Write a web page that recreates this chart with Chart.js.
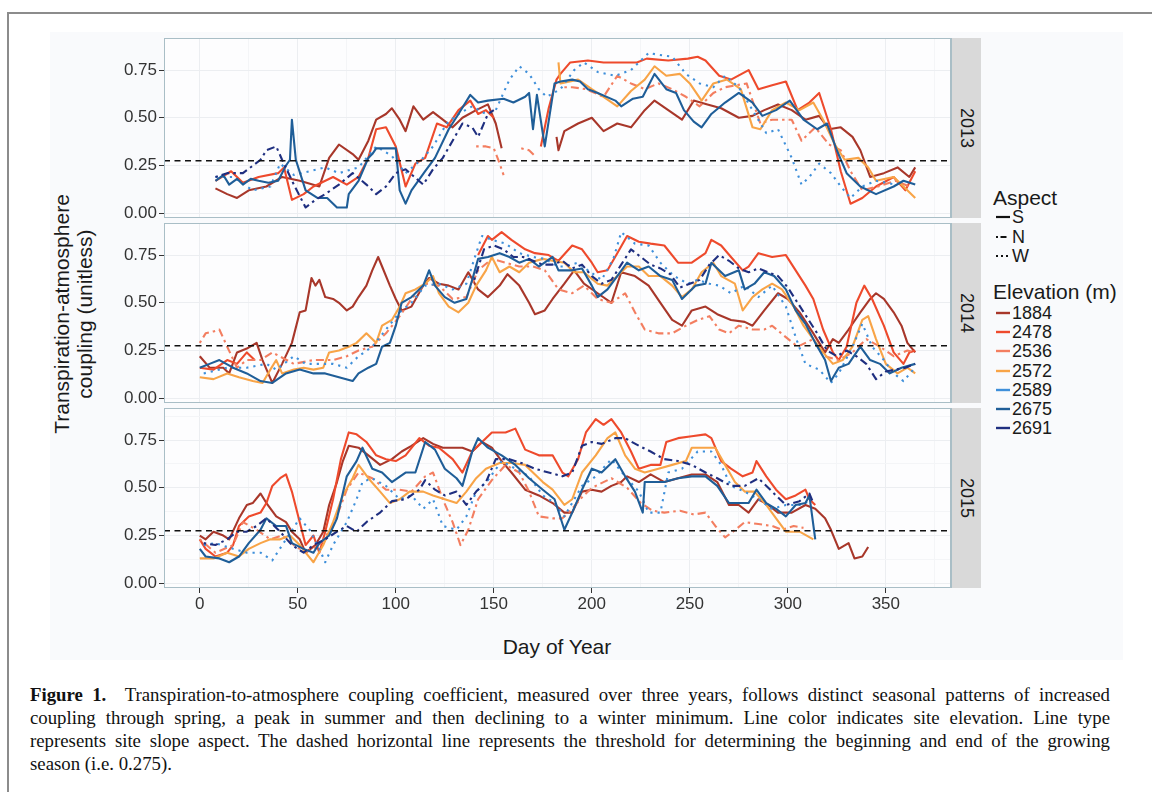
<!DOCTYPE html>
<html>
<head>
<meta charset="utf-8">
<script src="https://cdn.jsdelivr.net/npm/chart.js@4.4.1/dist/chart.umd.min.js"></script>
<style>
body{margin:0;width:1152px;height:792px;background:#fff;position:relative;overflow:hidden;font-family:"Liberation Sans",Arial,sans-serif;color:#1a1a1a;}
.abs{position:absolute;}
#frame{left:7px;top:12px;width:1160px;height:800px;border-top:2px solid #8c8c8c;border-left:2px solid #8c8c8c;}
#figbg{left:50px;top:32px;width:1073px;height:628px;background:#f9fafc;}
canvas{position:absolute;}
.strip{left:951px;width:30px;height:180px;background:#d9d9d9;border-left:1px solid #a9bec6;box-sizing:border-box;
  writing-mode:vertical-rl;display:flex;align-items:center;justify-content:center;font-size:18px;color:#1a1a1a;}
#ytitle{left:-77px;top:291px;width:300px;height:46px;line-height:23px;font-size:21px;text-align:center;transform:rotate(-90deg);}
#xtitle{left:457px;top:635px;width:200px;text-align:center;font-size:21px;line-height:24px;}
.ltitle{left:993px;font-size:21px;line-height:24px;}
.litem{left:995px;height:20px;display:flex;align-items:center;font-size:18px;line-height:20px;}
.litem svg{margin-right:1px;}
.cap{left:30px;width:1080px;font-family:"Liberation Serif","Times New Roman",serif;font-size:18.8px;line-height:23px;white-space:nowrap;color:#111;}
.just{text-align:justify;text-align-last:justify;}
</style>
</head>
<body>
<div id="frame" class="abs"></div>
<div id="figbg" class="abs"></div>
<canvas id="c2013"></canvas>
<canvas id="c2014"></canvas>
<canvas id="c2015"></canvas>
<div class="abs strip" style="top:38px">2013</div>
<div class="abs strip" style="top:223px">2014</div>
<div class="abs strip" style="top:408px">2015</div>
<div id="ytitle" class="abs">Transpiration-atmosphere<br>coupling (unitless)</div>
<div id="xtitle" class="abs">Day of Year</div>
<div id="legend"></div>
<div class="abs cap just" style="top:683px"><b>Figure 1.</b>&nbsp; Transpiration-to-atmosphere coupling coefficient, measured over three years, follows distinct seasonal patterns of increased</div>
<div class="abs cap just" style="top:706px">coupling through spring, a peak in summer and then declining to a winter minimum. Line color indicates site elevation. Line type</div>
<div class="abs cap just" style="top:729px">represents site slope aspect. The dashed horizontal line represents the threshold for determining the beginning and end of the growing</div>
<div class="abs cap" style="top:752px">season (i.e. 0.275).</div>
<script>
"use strict";

// [day of year, coupling], null = gap in record
const d13_1884 = [[8,.13],[14,.10],[19,.08],[25,.12],[34,.14],[42,.19],[51,.17],[61,.14],[66,.29],[71,.36],[78,.31],[81,.28],[86,.38],[90,.49],[95,.52],[98,.55],[102,.49],[105,.43],[109,.56],[114,.49],[119,.53],[124,.49],[129,.45],[134,.50],[141,.54],[147,.57],[151,.47],[154,.34],[168,null],[182,.40],[183,.33],[186,.43],[193,.47],[200,.50],[206,.43],[213,.47],[220,.45],[227,.54],[232,.59],[239,.54],[246,.49],[252,.59],[259,.57],[266,.55],[275,.50],[282,.51],[288,.54],[295,.57],[302,.54],[309,.49],[316,.51],[321,.44],[327,.45],[333,.40],[337,.33],[342,.19],[349,.21],[356,.24],[362,.19],[365,.24]];
const d13_2478 = [[8,.17],[16,.22],[22,.16],[30,.19],[40,.21],[43,.24],[47,.07],[53,.10],[58,.14],[68,.19],[75,.15],[81,.19],[86,.29],[90,.44],[95,.45],[100,.35],[105,.14],[110,.26],[115,.29],[121,.47],[126,.45],[132,.54],[138,.59],[142,.52],[146,.54],[150,.50],[162,null],[174,.35],[178,.55],[182,.70],[184,.73],[189,.79],[198,.80],[206,.79],[216,.79],[223,.79],[228,.81],[239,.80],[249,.81],[254,.82],[258,.80],[265,.72],[271,.70],[280,.75],[285,.65],[292,.67],[299,.69],[305,.54],[311,.58],[316,.63],[322,.44],[327,.22],[332,.05],[338,.08],[345,.14],[354,.19],[360,.12],[365,.22]];
const d13_2536 = [[141,.35],[146,.35],[150,.34],[153,.26],[155,.20],[160,null],[164,.34],[168,.33],[171,.30],[178,null],[186,.66],[190,.66],[197,.65],[206,.61],[213,.72],[220,.68],[227,.65],[234,.68],[241,.65],[248,.61],[255,.56],[262,.63],[268,.66],[279,.68],[286,.47],[292,.49],[302,.49],[307,.38],[314,.45],[321,.36],[327,.33],[332,.22],[338,.12],[346,.14],[355,.17],[362,.14]];
const d13_2572 = [[183,.79],[184,.68],[193,.70],[200,.65],[206,.61],[213,.56],[220,.64],[227,.70],[232,.77],[238,.72],[245,.73],[250,.68],[256,.59],[262,.68],[269,.70],[276,.65],[282,.45],[286,.44],[292,.54],[299,.58],[306,.54],[313,.58],[318,.49],[324,.36],[329,.28],[336,.29],[341,.24],[345,.17],[354,.19],[359,.14],[365,.08]];
const d13_2589 = [[8,.19],[17,.19],[27,.12],[36,.14],[41,.26],[48,.20],[56,.22],[64,.24],[71,.21],[81,.24],[90,.35],[98,.30],[105,.21],[114,.29],[119,.35],[126,.47],[132,.52],[139,.56],[146,.52],[151,.54],[158,.70],[163,.77],[168,.73],[173,.65],[177,.61],[184,.65],[191,.75],[196,.79],[203,.74],[212,.72],[220,.75],[229,.84],[234,.83],[241,.82],[248,.73],[255,.68],[262,.66],[268,.72],[275,.66],[282,.54],[289,.42],[295,.44],[302,.29],[307,.15],[311,.19],[316,.26],[322,.21],[327,.14],[332,.08],[338,.14],[345,.17],[355,.15]];
const d13_2675 = [[8,.17],[12,.20],[15,.15],[19,.18],[22,.15],[26,.18],[30,.17],[35,.16],[40,.17],[44,.25],[46,.28],[47,.49],[49,.28],[54,.12],[60,.08],[65,.08],[70,.03],[75,.03],[76,.10],[81,.17],[86,.29],[88,.31],[90,.34],[95,.34],[100,.34],[102,.12],[105,.05],[108,.12],[115,.22],[120,.29],[127,.44],[132,.52],[138,.62],[142,.58],[147,.59],[155,.60],[160,.58],[166,.61],[168,.63],[170,.44],[172,.62],[176,.35],[181,.68],[184,.69],[190,.70],[194,.69],[198,.65],[203,.63],[212,.59],[215,.56],[221,.60],[226,.61],[232,.73],[238,.65],[243,.63],[247,.54],[252,.48],[256,.45],[261,.52],[268,.58],[275,.63],[282,.58],[287,.51],[294,.54],[301,.59],[308,.49],[315,.44],[320,.47],[325,.33],[330,.21],[337,.14],[345,.10],[354,.14],[359,.17],[365,.15]];
const d13_2691 = [[8,.19],[14,.21],[22,.21],[31,.28],[34,.33],[39,.35],[42,.28],[48,.15],[54,.03],[59,.07],[64,.10],[71,.15],[78,.21],[85,.15],[90,.10],[95,.14],[100,.21],[105,.23],[114,.15],[119,.23],[124,.29],[129,.38],[134,.47],[139,.45],[142,.40],[147,.52],[150,.54]];

const d14_1884 = [[0,.22],[5,.16],[12,.16],[15,.13],[19,.24],[24,.26],[29,.29],[32,.20],[37,.08],[42,.18],[47,.29],[51,.45],[54,.46],[57,.63],[59,.59],[61,.62],[64,.53],[68,.52],[71,.50],[75,.46],[78,.48],[81,.53],[85,.59],[88,.67],[91,.74],[93,.69],[97,.59],[100,.52],[103,.46],[108,.48],[114,.59],[117,.63],[122,.60],[127,.59],[132,.57],[137,.66],[142,.57],[147,.53],[153,.59],[157,.65],[163,.59],[168,.50],[171,.44],[176,.46],[180,.52],[186,.60],[191,.67],[196,.60],[203,.55],[210,.50],[215,.66],[222,.64],[229,.59],[235,.50],[241,.41],[246,.38],[251,.46],[258,.48],[264,.44],[271,.41],[278,.40],[282,.38],[288,.46],[295,.55],[300,.52],[306,.45],[313,.34],[319,.24],[323,.31],[326,.29],[331,.36],[337,.45],[342,.52],[345,.55],[349,.52],[354,.45],[358,.38],[361,.29],[365,.24]];
const d14_2478 = [[0,.16],[7,.15],[14,.20],[19,.18],[24,.24],[28,.20],[30,null],[142,.75],[147,.85],[149,.83],[154,.87],[159,.83],[166,.78],[171,.76],[178,.75],[183,.72],[190,.80],[195,.78],[200,.71],[203,.66],[208,.67],[213,.76],[218,.85],[224,.82],[230,.81],[237,.80],[244,.71],[251,.71],[258,.76],[261,.83],[266,.80],[271,.74],[277,.67],[280,.69],[285,.76],[292,.74],[299,.75],[304,.67],[309,.59],[313,.52],[318,.36],[323,.24],[326,.20],[330,.27],[335,.50],[339,.59],[343,.52],[349,.38],[354,.24],[359,.18],[362,.24],[365,.25]];
const d14_2536 = [[0,.29],[3,.34],[7,.35],[10,.36],[14,.27],[19,.16],[24,.20],[31,.20],[37,.24],[48,.18],[58,.20],[68,.20],[75,.22],[81,.25],[88,.27],[95,.34],[102,.43],[108,.52],[115,.60],[122,.59],[129,.52],[136,.53],[142,.67],[149,.73],[156,.71],[163,.69],[170,.69],[176,.67],[183,.57],[190,.55],[196,.59],[203,.52],[210,.50],[217,.55],[222,.45],[227,.36],[234,.34],[241,.34],[248,.38],[254,.41],[260,.43],[265,.36],[270,.34],[275,.38],[282,.36],[288,.36],[292,.38],[299,.32],[305,.27],[313,.31],[319,.22],[326,.20],[333,.24],[340,.31],[347,.27],[354,.22],[361,.25],[365,.24]];
const d14_2572 = [[0,.11],[7,.10],[14,.13],[20,.11],[27,.09],[32,.08],[36,.15],[39,.20],[42,.13],[48,.15],[53,.16],[58,.15],[63,.16],[66,.24],[71,.25],[76,.27],[80,.29],[85,.34],[90,.29],[93,.38],[98,.41],[102,.48],[105,.55],[110,.57],[115,.60],[119,.64],[122,.55],[127,.48],[132,.45],[137,.50],[141,.59],[146,.67],[149,.74],[153,.66],[158,.69],[163,.66],[168,.71],[175,.73],[180,.72],[186,.71],[191,.66],[196,.66],[203,.60],[208,.59],[213,.64],[218,.69],[224,.69],[229,.64],[235,.64],[241,.59],[246,.53],[251,.57],[256,.66],[262,.71],[266,.64],[273,.60],[277,.46],[282,.53],[287,.57],[292,.60],[297,.57],[303,.48],[308,.38],[313,.31],[318,.24],[323,.18],[328,.20],[333,.27],[338,.41],[341,.43],[345,.31],[350,.18],[356,.13],[361,.16],[365,.13]];
const d14_2589 = [[2,.13],[14,.16],[24,.16],[34,.18],[39,.15],[48,.22],[54,.18],[61,.18],[68,.18],[75,.16],[81,.22],[88,.27],[95,.36],[102,.45],[108,.50],[115,.59],[122,.60],[129,.57],[136,.60],[141,.76],[144,.85],[149,.83],[156,.81],[163,.76],[170,.74],[176,.73],[183,.69],[186,.69],[193,.71],[198,.67],[205,.62],[211,.73],[215,.87],[222,.81],[229,.80],[235,.71],[242,.64],[249,.60],[254,.62],[260,.60],[265,.59],[271,.55],[278,.59],[285,.53],[292,.59],[299,.48],[304,.32],[309,.18],[316,.15],[322,.08],[326,.13],[333,.27],[338,.39],[343,.27],[349,.20],[354,.13],[359,.09],[364,.15]];
const d14_2675 = [[0,.16],[5,.18],[10,.20],[17,.16],[24,.13],[31,.09],[37,.08],[44,.13],[51,.15],[58,.13],[64,.13],[71,.11],[78,.09],[81,.13],[86,.16],[90,.18],[93,.27],[97,.29],[100,.38],[103,.50],[108,.53],[114,.59],[117,.67],[120,.59],[125,.53],[130,.50],[136,.52],[139,.62],[142,.73],[147,.74],[153,.76],[158,.74],[163,.71],[168,.73],[173,.69],[180,.74],[183,.67],[190,.67],[195,.68],[200,.59],[203,.53],[208,.57],[213,.64],[218,.71],[224,.67],[229,.69],[235,.64],[241,.62],[246,.52],[253,.59],[258,.60],[261,.71],[268,.64],[275,.67],[278,.57],[283,.60],[288,.66],[293,.64],[299,.57],[304,.46],[309,.39],[314,.29],[319,.20],[322,.09],[326,.16],[331,.18],[337,.27],[342,.20],[347,.18],[352,.13],[358,.16],[365,.18]];
const d14_2691 = [[140,.62],[145,.78],[150,.80],[155,.78],[160,.74],[165,.74],[170,.72],[175,.70],[180,.70],[185,.72],[190,.68],[195,.70],[200,.64],[205,.60],[210,.62],[215,.70],[220,.78],[225,.74],[230,.70],[235,.68],[240,.65],[245,.58],[250,.60],[255,.62],[260,.70],[265,.75],[270,.72],[275,.68],[280,.66],[285,.68],[290,.66],[295,.64],[300,.58],[305,.50],[310,.42],[315,.34],[320,.25],[325,.22],[330,.25],[335,.22],[340,.18],[345,.10],[350,.14],[355,.15],[360,.16],[365,.18]];

const d15_1884 = [[0,.25],[3,.23],[7,.27],[12,.25],[15,.23],[20,.34],[24,.41],[27,.42],[31,.47],[34,.42],[39,.35],[44,.32],[47,.27],[51,.23],[54,.16],[59,.20],[63,.27],[66,.41],[70,.53],[73,.64],[76,.72],[81,.71],[86,.67],[92,.62],[98,.65],[103,.69],[108,.72],[114,.76],[119,.73],[124,.71],[129,.71],[134,.71],[139,.69],[144,.74],[149,.71],[154,.64],[159,.58],[166,.49],[173,.46],[180,.42],[186,.37],[190,.37],[195,.48],[200,.49],[205,.48],[210,.51],[215,.53],[218,.56],[224,.53],[230,.57],[237,.53],[244,.55],[251,.57],[258,.57],[264,.53],[270,.41],[275,.41],[280,.37],[285,.44],[290,.41],[295,.37],[302,.37],[309,.41],[314,.39],[319,.34],[322,.28],[326,.18],[331,.21],[334,.13],[338,.14],[341,.19]];
const d15_2478 = [[0,.23],[3,.18],[8,.14],[14,.16],[17,.20],[20,.30],[25,.35],[31,.37],[34,.42],[37,.51],[41,.55],[44,.57],[47,.48],[51,.32],[54,.20],[58,.25],[61,.16],[64,.27],[68,.44],[72,.65],[76,.79],[80,.78],[85,.74],[90,.67],[95,.65],[100,.64],[105,.67],[112,.76],[117,.72],[122,.71],[129,.65],[134,.58],[139,.69],[144,.74],[149,.79],[156,.79],[161,.81],[166,.70],[173,.67],[180,.67],[185,.58],[188,.56],[193,.65],[197,.79],[202,.86],[206,.83],[210,.86],[215,.79],[220,.69],[224,.60],[230,.62],[235,.62],[238,.74],[244,.76],[251,.77],[258,.78],[261,.76],[266,.64],[271,.60],[277,.56],[282,.58],[284,.64],[289,.56],[294,.49],[299,.44],[304,.46],[309,.49],[311,.44],[314,.41]];
const d15_2536 = [[0,.23],[8,.16],[17,.20],[22,.32],[29,.28],[36,.23],[42,.25],[48,.20],[54,.16],[61,.20],[68,.30],[75,.49],[81,.58],[88,.55],[95,.49],[102,.49],[108,.48],[115,.56],[119,.58],[124,.44],[129,.32],[133,.20],[137,.28],[142,.44],[149,.54],[156,.62],[163,.58],[168,.48],[173,.35],[180,.34],[185,.34],[190,.39],[195,.45],[200,.50],[210,.55],[218,.50],[225,.42],[231,.38],[237,.37],[245,.38],[252,.36],[258,.37],[263,.30],[268,.24],[272,.27],[278,.32],[285,.31],[292,.30],[297,.28],[303,.30],[308,.29]];
const d15_2572 = [[0,.13],[7,.13],[14,.16],[20,.14],[25,.18],[31,.21],[36,.23],[41,.23],[46,.25],[51,.20],[54,.16],[58,.11],[63,.20],[68,.32],[73,.46],[78,.55],[81,.62],[86,.55],[92,.48],[97,.42],[102,.44],[107,.48],[114,.48],[119,.46],[125,.44],[131,.42],[136,.48],[141,.55],[146,.60],[153,.63],[159,.63],[166,.62],[175,.53],[180,.49],[186,.41],[190,.44],[195,.58],[202,.67],[208,.76],[212,.79],[217,.67],[222,.60],[227,.58],[234,.60],[241,.62],[248,.64],[251,.71],[258,.71],[263,.71],[268,.62],[273,.53],[278,.48],[283,.48],[289,.41],[294,.34],[299,.27],[306,.27],[313,.23]];
const d15_2589 = [[2,.20],[8,.21],[17,.18],[24,.16],[31,.16],[37,.12],[44,.23],[51,.34],[56,.28],[61,.18],[64,.11],[68,.20],[75,.32],[80,.44],[83,.53],[88,.55],[95,.51],[102,.44],[108,.46],[114,.39],[119,.44],[124,.30],[131,.28],[136,.35],[141,.48],[147,.54],[154,.64],[161,.60],[168,.56],[175,.46],[181,.42],[186,.35],[195,.51],[202,.56],[210,.65],[217,.56],[224,.48],[229,.37],[235,.37],[239,.58],[246,.60],[254,.69],[261,.69],[266,.62],[271,.51],[278,.48],[285,.44],[292,.39],[299,.41],[306,.41],[311,.43]];
const d15_2675 = [[0,.18],[3,.14],[10,.13],[15,.11],[20,.14],[25,.21],[31,.28],[34,.34],[39,.30],[44,.30],[47,.21],[53,.18],[58,.16],[61,.21],[66,.25],[70,.34],[75,.56],[80,.64],[83,.71],[88,.60],[93,.58],[98,.53],[105,.58],[110,.58],[115,.74],[120,.70],[125,.60],[131,.55],[134,.51],[139,.69],[142,.76],[147,.71],[154,.67],[161,.62],[168,.55],[175,.49],[181,.44],[186,.28],[190,.37],[195,.49],[200,.60],[205,.58],[212,.65],[217,.56],[222,.48],[226,.37],[227,.53],[237,.53],[244,.55],[251,.56],[258,.56],[264,.51],[270,.42],[280,.42],[284,.49],[289,.42],[294,.39],[299,.35],[304,.41],[309,.42],[311,.46],[314,.23]];
const d15_2691 = [[2,.21],[8,.20],[14,.23],[19,.27],[24,.27],[29,.30],[34,.34],[41,.27],[47,.20],[53,.16],[58,.20],[64,.23],[70,.27],[75,.30],[80,.27],[85,.32],[92,.37],[98,.43],[105,.44],[112,.49],[115,.54],[120,.49],[125,.46],[131,.48],[136,.41],[141,.48],[146,.53],[151,.65],[158,.65],[164,.63],[171,.60],[178,.58],[185,.56],[190,.58],[195,.72],[200,.74],[205,.73],[212,.76],[217,.76],[224,.72],[230,.69],[237,.65],[244,.64],[251,.62],[258,.58],[264,.55],[271,.51],[278,.51],[285,.55],[292,.48],[299,.41],[306,.43],[311,.47],[313,.42]];

const sites = ["1884","2478","2536","2572","2589","2675","2691"];
const siteAspect = ["S","S","N","S","W","S","N"];
const aspects = ["S","N","W"];
const years = ["2013","2014","2015"];
const yearData = {
    "2013": [d13_1884, d13_2478, d13_2536, d13_2572, d13_2589, d13_2675, d13_2691],
    "2014": [d14_1884, d14_2478, d14_2536, d14_2572, d14_2589, d14_2675, d14_2691],
    "2015": [d15_1884, d15_2478, d15_2536, d15_2572, d15_2589, d15_2675, d15_2691]
};
const threshold = 0.275;
const xTicks = [0,50,100,150,200,250,300,350];
const yTicks = [0,0.25,0.5,0.75];
const xMinor = [25,75,125,175,225,275,325,375];
const yMinor = [0.125,0.375,0.625,0.875];

// styling
const siteColors = ["#a8372a","#ee4a2c","#f37e60","#f8a447","#3e8fda","#1f5e98","#1f2f80"];
const aspectDash = {S: [], N: [2.5,4,8,4], W: [2.2,5]};
const legendDash = {S: "", N: "2 2.5 6 10", W: "2 3"};
const panelTops = [38, 223, 408];
const panelH = 180, axisW = 64, canvasLeft = 100, canvasW = 851;
const xRange = [-18.25, 383.25], yRange = [-0.025, 0.918];
const fontFam = '"Liberation Sans", Arial, sans-serif';

const isMajor = (v, list) => list.some(t => Math.abs(t - v) < 1e-9);

const panelFrame = {
    id: "panelFrame",
    beforeDraw(chart){
        const {ctx, chartArea: a} = chart;
        ctx.save();
        ctx.fillStyle = "#fdfdfe";
        ctx.fillRect(a.left, a.top, a.width, a.height);
        ctx.restore();
    },
    afterDraw(chart){
        const {ctx, chartArea: a} = chart;
        ctx.save();
        ctx.strokeStyle = "#a9bec6";
        ctx.lineWidth = 1;
        ctx.strokeRect(a.left + 0.5, a.top + 0.5, a.width - 1, a.height - 1);
        ctx.restore();
    }
};

years.forEach((yr, p) => {
    const bottom = p === years.length - 1;
    const canvas = document.getElementById("c" + yr);
    canvas.width = canvasW;
    canvas.height = panelH + (bottom ? 30 : 0);
    canvas.style.left = canvasLeft + "px";
    canvas.style.top = panelTops[p] + "px";

    const datasets = yearData[yr].map((series, i) => ({
        label: sites[i],
        data: series.map(d => ({x: d[0], y: d[1]})),
        borderColor: siteColors[i],
        borderWidth: 2.1,
        borderDash: aspectDash[siteAspect[i]],
        order: 10 - i
    }));
    datasets.push({
        label: "threshold",
        data: [{x: xRange[0], y: threshold}, {x: xRange[1], y: threshold}],
        borderColor: "#111",
        borderWidth: 1.5,
        borderDash: [6, 4.5],
        order: 0
    });

    new Chart(canvas.getContext("2d"), {
        type: "line",
        data: {datasets},
        plugins: [panelFrame],
        options: {
            responsive: false,
            animation: false,
            devicePixelRatio: 1,
            layout: {padding: 0},
            spanGaps: false,
            elements: {point: {radius: 0}, line: {tension: 0, borderJoinStyle: "round"}},
            plugins: {legend: {display: false}, tooltip: {enabled: false}},
            scales: {
                x: {
                    type: "linear", min: xRange[0], max: xRange[1],
                    afterBuildTicks: ax => { ax.ticks = xTicks.concat(xMinor).sort((a, b) => a - b).map(v => ({value: v})); },
                    afterFit: ax => { ax.height = bottom ? 30 : 0; ax.paddingLeft = 0; ax.paddingRight = 0; },
                    border: {display: false},
                    grid: {
                        color: c => isMajor(c.tick.value, xTicks) ? "#eceef1" : "#f4f5f7",
                        tickColor: c => isMajor(c.tick.value, xTicks) ? "#333" : "rgba(0,0,0,0)",
                        tickLength: 5, drawTicks: bottom
                    },
                    ticks: {
                        display: bottom, autoSkip: false, maxRotation: 0, padding: 1,
                        color: "#333", font: {family: fontFam, size: 17},
                        callback: v => isMajor(v, xTicks) ? String(v) : ""
                    }
                },
                y: {
                    min: yRange[0], max: yRange[1],
                    afterBuildTicks: ax => { ax.ticks = yTicks.concat(yMinor).sort((a, b) => a - b).map(v => ({value: v})); },
                    afterFit: ax => { ax.width = axisW; ax.paddingTop = 0; ax.paddingBottom = 0; },
                    border: {display: false},
                    grid: {
                        color: c => isMajor(c.tick.value, yTicks) ? "#eceef1" : "#f4f5f7",
                        tickColor: c => isMajor(c.tick.value, yTicks) ? "#333" : "rgba(0,0,0,0)",
                        tickLength: 5
                    },
                    ticks: {
                        padding: 2, color: "#333", font: {family: fontFam, size: 17},
                        callback: v => isMajor(v, yTicks) ? v.toFixed(2) : ""
                    }
                }
            }
        }
    });
});

// legend (HTML)
let html = '<div class="abs ltitle" style="top:186px">Aspect</div>';
aspects.forEach((a, i) => {
    const cy = 217 + i * 19.5;
    html += '<div class="abs litem" style="top:' + (cy - 10) + 'px"><svg width="16" height="6"><line x1="1" y1="3" x2="15" y2="3" stroke="#111" stroke-width="2.2" stroke-dasharray="' + legendDash[a] + '"/></svg>' + a + '</div>';
});
html += '<div class="abs ltitle" style="top:280px">Elevation (m)</div>';
sites.forEach((s, i) => {
    const cy = 313 + i * 19.2;
    html += '<div class="abs litem" style="top:' + (cy - 10) + 'px"><svg width="16" height="6"><line x1="1" y1="3" x2="15" y2="3" stroke="' + siteColors[i] + '" stroke-width="2.4"/></svg>' + s + '</div>';
});
document.getElementById("legend").innerHTML = html;
</script>
</body>
</html>
